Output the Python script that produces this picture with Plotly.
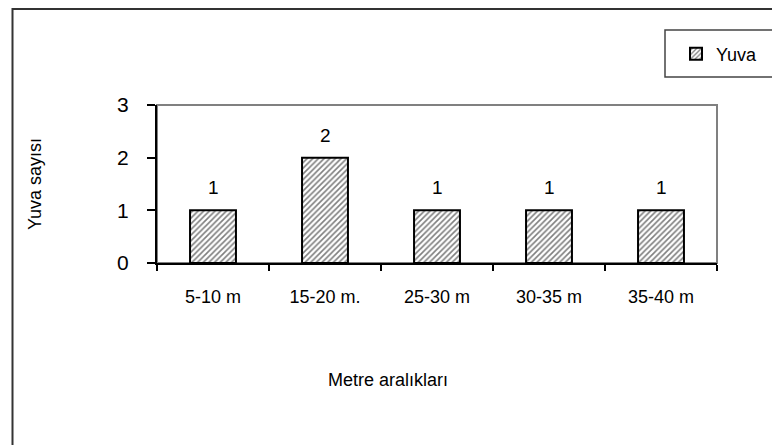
import plotly.graph_objects as go

categories = ["5-10 m", "15-20 m.", "25-30 m", "30-35 m", "35-40 m"]
values = [1, 2, 1, 1, 1]
series_name = "Yuva"
y_title = "Yuva sayısı"
x_title = "Metre aralıkları"
y_ticks = [0, 1, 2, 3]

OFF = 8  # default page body margin
W, H = 780 - OFF, 445 - OFF
L, T = 157 - OFF, 105 - OFF
R = W - (717 - OFF)
B = H - (263 - OFF)
pw, ph = W - L - R, H - T - B


def px_x(p):
    return (p - OFF - L) / pw


def px_y(p):
    return (H - B - (p - OFF)) / ph


FONT = "Liberation Sans, Arial, sans-serif"

fig = go.Figure()
fig.add_trace(go.Bar(
    x=categories, y=values, name=series_name,
    marker=dict(color="white", line=dict(color="black", width=2),
                pattern=dict(shape="/", fgcolor="black", bgcolor="white", size=4, solidity=0.4)),
    width=0.41,
))

annotations = []
for c, v in zip(categories, values):
    annotations.append(dict(x=c, y=v, text=str(v), showarrow=False, yanchor="bottom",
                            yshift=10, font=dict(size=19, color="black", family=FONT)))

annotations.append(dict(xref="paper", yref="paper", x=px_x(388), y=px_y(380), text=x_title,
                        showarrow=False, xanchor="center", yanchor="middle",
                        font=dict(size=18, color="black", family=FONT)))
annotations.append(dict(xref="paper", yref="paper", x=px_x(35), y=px_y(184), text=y_title,
                        showarrow=False, xanchor="center", yanchor="middle", textangle=-90,
                        font=dict(size=18, color="black", family=FONT)))

shapes = [
    dict(type="rect", xref="paper", yref="paper", x0=0, x1=1, y0=0, y1=1,
         line=dict(color="#808080", width=2), layer="below"),
    dict(type="rect", xref="paper", yref="paper", x0=px_x(12.5), x1=px_x(800), y0=px_y(470), y1=px_y(9),
         line=dict(color="#333333", width=2)),
    dict(type="rect", xref="paper", yref="paper", x0=px_x(665), x1=px_x(800), y0=px_y(77), y1=px_y(30),
         line=dict(color="#444444", width=1.5)),
]

fig.update_layout(
    width=W, height=H,
    margin=dict(l=L, r=R, t=T, b=B),
    paper_bgcolor="white", plot_bgcolor="white",
    font=dict(family=FONT, color="black"),
    showlegend=True,
    legend=dict(x=px_x(676), y=px_y(54), xanchor="left", yanchor="middle",
                bgcolor="rgba(0,0,0,0)", font=dict(size=18, color="black", family=FONT),
                itemwidth=30),
    xaxis=dict(type="category", showline=True, linecolor="black", linewidth=2,
               ticks="outside", tickson="boundaries", ticklen=6, tickcolor="black", tickwidth=1.5,
               ticklabelstandoff=16,
               tickfont=dict(size=18, color="black", family=FONT), showgrid=False,
               range=[-0.5, 4.5]),
    yaxis=dict(range=[0, 3], tickvals=y_ticks, showline=True, linecolor="black", linewidth=2,
               ticks="outside", ticklen=8, tickcolor="black", tickwidth=1.5,
               ticklabelstandoff=14,
               tickfont=dict(size=21, color="black", family=FONT), showgrid=False, zeroline=False),
    annotations=annotations,
    shapes=shapes,
)

fig.write_html("out.html")
